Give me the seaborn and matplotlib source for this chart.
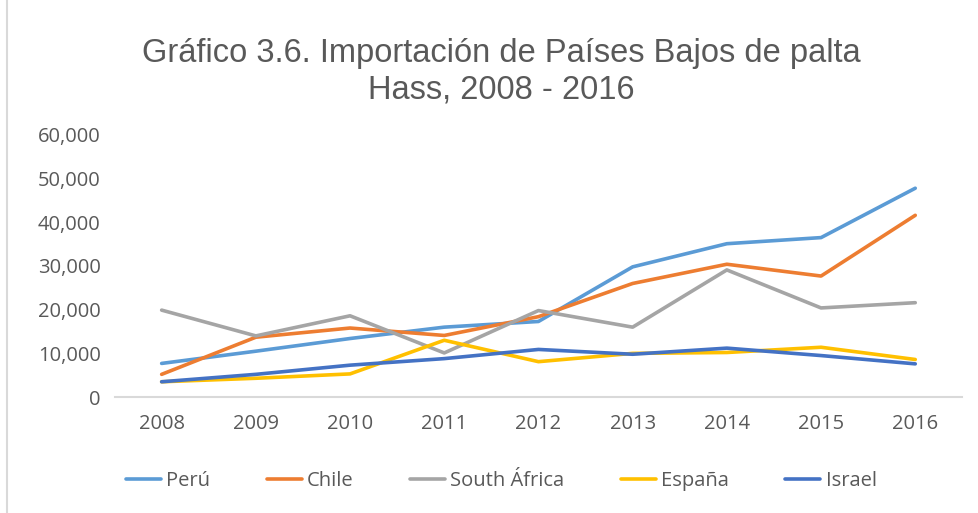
import matplotlib
matplotlib.use("Agg")
import matplotlib.pyplot as plt
import seaborn as sns
import pandas as pd
from matplotlib.patches import Rectangle
from matplotlib.ticker import FuncFormatter

years = [2008, 2009, 2010, 2011, 2012, 2013, 2014, 2015, 2016]
peru = [7700, 10500, 13400, 16000, 17300, 29800, 35100, 36500, 47800]
chile = [5200, 13700, 15800, 14100, 18400, 26000, 30400, 27700, 41600]
south_africa = [19900, 14000, 18600, 10100, 19800, 16000, 29100, 20400, 21600]
espana = [3500, 4300, 5300, 13000, 8100, 10000, 10200, 11400, 8600]
israel = [3500, 5200, 7300, 8800, 10900, 9800, 11200, 9500, 7600]

series_names = ["Perú", "Chile", "South África", "España", "Israel"]
colors = ["#5B9BD5", "#ED7D31", "#A5A5A5", "#FFC000", "#4472C4"]

df = pd.concat([
    pd.DataFrame({"Año": years, "Valor": vals, "País": name})
    for name, vals in zip(series_names, [peru, chile, south_africa, espana, israel])
])

sns.set_theme(style="white")
plt.rcParams['font.family'] = ['Open Sans', 'DejaVu Sans']

fig = plt.figure(figsize=(9.79, 5.13), dpi=100)
ax = fig.add_axes([0.117, 0.226, 0.866, 0.511])

sns.lineplot(data=df, x="Año", y="Valor", hue="País", palette=colors,
             hue_order=series_names, linewidth=2.6, ax=ax, legend=True)

ax.set_xlim(2007.5, 2016.5)
ax.set_ylim(0, 60000)
ax.set_xticks(years)
ax.set_yticks(range(0, 60001, 10000))
ax.yaxis.set_major_formatter(FuncFormatter(lambda v, p: f"{int(v):,}"))
ax.tick_params(axis='both', labelsize=14.5, colors="#595959", length=0)
ax.tick_params(axis='x', pad=12)
ax.tick_params(axis='y', pad=10)
ax.set_xlabel("")
ax.set_ylabel("")
for s in ["top", "right", "left"]:
    ax.spines[s].set_visible(False)
ax.spines["bottom"].set_color("#D9D9D9")
ax.spines["bottom"].set_linewidth(1.5)
ax.grid(False)

handles, labels = ax.get_legend_handles_labels()
ax.legend(handles, labels, loc="center", bbox_to_anchor=(0.512, 0.063),
          bbox_transform=fig.transFigure, ncol=5, frameon=False,
          fontsize=14.5, labelcolor="#595959", handlelength=1.75,
          handletextpad=0.25, columnspacing=2.8)

fig.text(0.512, 0.86, "Gráfico 3.6. Importación de Países Bajos de palta\nHass, 2008 - 2016",
         ha="center", va="center", fontsize=23.5, color="#595959",
         family=["Liberation Sans", "DejaVu Sans"],
         linespacing=1.2)

fig.patches.append(Rectangle((0.007, -0.01), 1.1, 1.1, transform=fig.transFigure,
                             fill=False, edgecolor="#D9D9D9", linewidth=1.5))

fig.savefig("out.png", dpi=100)
